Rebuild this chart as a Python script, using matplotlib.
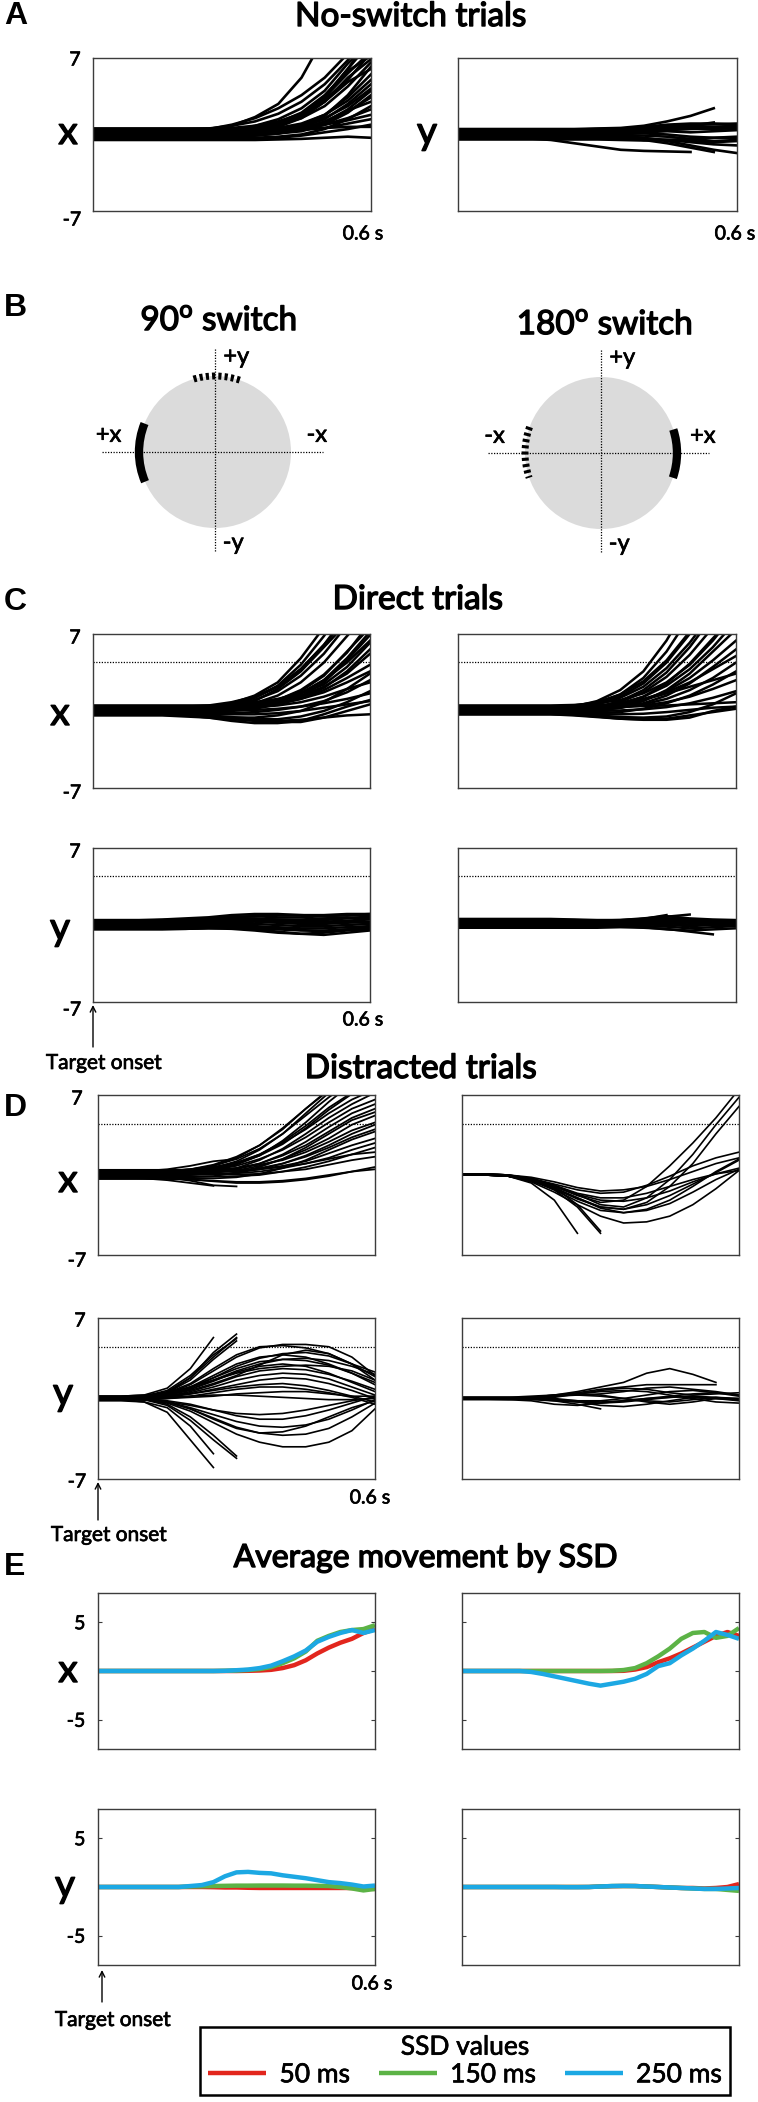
import numpy as np
import matplotlib
matplotlib.use('Agg')
import matplotlib.pyplot as plt
import matplotlib.patheffects as pe
from matplotlib.patches import Circle, Arc

plt.rcParams['font.family'] = ['Lato', 'DejaVu Sans']

# time base of the single-trial traces (s)
T = [0.0, 0.05, 0.1, 0.15, 0.2, 0.25, 0.3, 0.35, 0.4, 0.45, 0.5, 0.55, 0.6]
# time base of the SSD averages (s)
TE = [0.0, 0.025, 0.05, 0.075, 0.1, 0.125, 0.15, 0.175, 0.2, 0.225, 0.25, 0.275,
      0.3, 0.325, 0.35, 0.375, 0.4, 0.425, 0.45, 0.475, 0.5, 0.525, 0.55, 0.575, 0.6]

THRESH = 4.5  # dotted threshold line

# ---- A: no-switch trials ----
nsw_x = [
    [0.3, 0.3, 0.3, 0.3, 0.3, 0.4, 0.8, 1.6, 2.8, 5.2, 9.0, 13, 16],
    [0.4, 0.4, 0.4, 0.4, 0.4, 0.5, 0.9, 1.5, 2.4, 3.6, 5.2, 7.4, 10],
    [0.5, 0.5, 0.5, 0.5, 0.5, 0.55, 0.8, 1.2, 1.9, 3.0, 4.6, 6.8, 9.5],
    [0.2, 0.2, 0.2, 0.2, 0.2, 0.2, 0.4, 0.8, 1.4, 2.4, 4.0, 6.5, 8.5],
    [0.1, 0.1, 0.1, 0.1, 0.1, 0.1, 0.2, 0.5, 1.0, 1.9, 3.4, 5.6, 7.6],
    [0.3, 0.3, 0.3, 0.3, 0.3, 0.3, 0.4, 0.6, 1.1, 2.0, 3.6, 5.8, 7.2],
    [0.0, 0.0, 0.0, 0.0, 0.0, 0.0, 0.1, 0.3, 0.7, 1.5, 3.0, 5.2, 6.9],
    [0.45, 0.45, 0.45, 0.45, 0.45, 0.45, 0.5, 0.6, 0.9, 1.5, 2.6, 4.4, 6.6],
    [-0.1, -0.1, -0.1, -0.1, -0.1, -0.1, -0.1, 0.0, 0.2, 0.7, 1.7, 3.6, 6.2],
    [0.2, 0.2, 0.2, 0.2, 0.2, 0.2, 0.2, 0.3, 0.5, 0.9, 1.8, 3.4, 5.5],
    [0.35, 0.35, 0.35, 0.35, 0.35, 0.35, 0.35, 0.4, 0.6, 1.0, 1.8, 3.1, 5.0],
    [0.05, 0.05, 0.05, 0.05, 0.05, 0.05, 0.05, 0.1, 0.3, 0.7, 1.4, 2.8, 4.6],
    [-0.2, -0.2, -0.2, -0.2, -0.2, -0.2, -0.2, -0.1, 0.1, 0.4, 1.1, 2.3, 4.0],
    [0.15, 0.15, 0.15, 0.15, 0.15, 0.15, 0.15, 0.2, 0.3, 0.6, 1.1, 2.1, 3.4],
    [0.4, 0.4, 0.4, 0.4, 0.4, 0.4, 0.4, 0.4, 0.45, 0.6, 0.9, 1.5, 2.3],
    [-0.3, -0.3, -0.3, -0.3, -0.3, -0.3, -0.3, -0.3, -0.2, 0.0, 0.5, 1.4, 2.6],
    [0.1, 0.1, 0.1, 0.1, 0.1, 0.1, 0.1, 0.1, 0.2, 0.4, 0.6, 1.0, 1.4],
    [-0.4, -0.4, -0.4, -0.4, -0.4, -0.4, -0.4, -0.4, -0.3, -0.1, 0.2, 0.5, 0.9],
    [0.25, 0.25, 0.25, 0.25, 0.25, 0.25, 0.25, 0.3, 0.4, 0.5, 0.6, 0.7, 0.7],
    [-0.5, -0.5, -0.5, -0.5, -0.5, -0.5, -0.5, -0.5, -0.45, -0.4, -0.3, -0.2, -0.3],
    [0.55, 0.55, 0.55, 0.55, 0.55, 0.55, 0.6, 0.8, 1.2, 1.9, 3.2, 5.0, 7.5],
    [0.0, 0.0, 0.0, 0.0, 0.0, 0.0, 0.1, 0.3, 0.8, 1.8, 3.5, 6.0, 8.5],
    [-0.25, -0.25, -0.25, -0.25, -0.25, -0.25, -0.2, -0.1, 0.1, 0.5, 1.2, 2.2, 3.0],
    [0.5, 0.5, 0.5, 0.5, 0.5, 0.5, 0.5, 0.5, 0.6, 0.7, 0.9, 1.3, 1.8],
    [0.3, 0.3, 0.3, 0.3, 0.3, 0.3, 0.35, 0.5, 0.9, 1.7, 3.0, 4.8, 6.0],
    [-0.05, -0.05, -0.05, -0.05, -0.05, -0.05, -0.05, 0.0, 0.1, 0.3, 0.9, 2.0, 3.6],
    [0.4, 0.4, 0.4, 0.4, 0.4, 0.4, 0.45, 0.6, 1.0, 1.8, 3.4, 6.0, 9.0],
    [0.2, 0.2, 0.2, 0.2, 0.2, 0.2, 0.2, 0.25, 0.4, 0.8, 1.5, 2.6, 4.2],
]
nsw_y = [
    [0.5, 0.5, 0.5, 0.5, 0.5, 0.5, 0.55, 0.6, 0.8, 1.2, 1.7, 2.4],
    [-0.3, -0.3, -0.3, -0.35, -0.5, -0.8, -1.1, -1.4, -1.5, -1.55, -1.6],
    [0.4, 0.4, 0.4, 0.4, 0.4, 0.4, 0.45, 0.5, 0.7, 0.9, 1.0, 1.0, 0.9],
    [0.3, 0.3, 0.3, 0.3, 0.3, 0.3, 0.35, 0.45, 0.6, 0.8, 0.8, 0.7, 0.8],
    [0.2, 0.2, 0.2, 0.2, 0.2, 0.25, 0.3, 0.4, 0.5, 0.6, 0.55, 0.5, 0.6],
    [-0.2, -0.2, -0.2, -0.2, -0.2, -0.2, -0.2, -0.3, -0.5, -0.8, -1.2, -1.6],
    [-0.1, -0.1, -0.1, -0.1, -0.1, -0.1, -0.1, -0.15, -0.3, -0.6, -1.0, -1.4, -1.7],
    [0.1, 0.1, 0.1, 0.1, 0.1, 0.1, 0.15, 0.2, 0.3, 0.4, 0.5, 0.6, 0.5],
    [0.0, 0.0, 0.0, 0.0, 0.0, 0.0, 0.0, 0.1, 0.2, 0.3, 0.2, 0.3, 0.4],
    [-0.4, -0.4, -0.4, -0.4, -0.4, -0.4, -0.4, -0.4, -0.45, -0.5, -0.6, -0.7, -0.6],
    [0.45, 0.45, 0.45, 0.45, 0.45, 0.45, 0.5, 0.55, 0.65, 0.8, 0.9, 0.95, 1.0],
    [-0.3, -0.3, -0.3, -0.3, -0.3, -0.3, -0.3, -0.3, -0.35, -0.5, -0.7, -0.9, -1.0],
    [0.2, 0.2, 0.2, 0.2, 0.2, 0.2, 0.2, 0.25, 0.3, 0.45, 0.6, 0.7, 0.7],
    [-0.15, -0.15, -0.15, -0.15, -0.15, -0.15, -0.15, -0.1, -0.1, -0.2, -0.4, -0.6, -0.5],
    [0.35, 0.35, 0.35, 0.35, 0.35, 0.35, 0.35, 0.4, 0.5, 0.6, 0.8, 1.1],
    [0.05, 0.05, 0.05, 0.05, 0.05, 0.05, 0.05, 0.05, 0.1, 0.0, -0.2, -0.3, -0.2],
    [-0.45, -0.45, -0.45, -0.45, -0.45, -0.45, -0.45, -0.5, -0.55, -0.5, -0.4, -0.3, -0.3],
]

# ---- C: direct trials ----
dir_x_90 = [
    [-0.3, -0.3, -0.3, -0.3, -0.4, -0.6, -0.9, -1.1, -1.1, -0.9, -0.3, 0.4, 1.0],
    [-0.2, -0.2, -0.2, -0.25, -0.35, -0.5, -0.7, -0.9, -1.0, -1.0, -0.6, 0.0, 0.6],
    [-0.4, -0.4, -0.4, -0.4, -0.5, -0.6, -0.75, -0.85, -0.9, -0.8, -0.6, -0.4, -0.3],
    [0.3, 0.3, 0.3, 0.3, 0.3, 0.4, 0.7, 1.4, 2.6, 4.8, 7.6, 11, 14],
    [0.1, 0.1, 0.1, 0.1, 0.15, 0.3, 0.6, 1.2, 2.3, 4.2, 6.8, 9.8, 13],
    [0.4, 0.4, 0.4, 0.4, 0.4, 0.5, 0.8, 1.3, 2.2, 3.8, 6.0, 8.8, 12],
    [0.2, 0.2, 0.2, 0.2, 0.2, 0.3, 0.5, 1.0, 1.8, 3.2, 5.2, 7.8, 10.5],
    [0.0, 0.0, 0.0, 0.0, 0.0, 0.1, 0.3, 0.7, 1.4, 2.6, 4.4, 6.8, 9.2],
    [0.35, 0.35, 0.35, 0.35, 0.35, 0.35, 0.4, 0.6, 1.0, 1.8, 3.2, 5.4, 7.6],
    [-0.1, -0.1, -0.1, -0.1, -0.1, -0.1, 0.0, 0.2, 0.6, 1.3, 2.6, 4.6, 6.9],
    [0.25, 0.25, 0.25, 0.25, 0.25, 0.25, 0.3, 0.4, 0.7, 1.2, 2.1, 3.6, 5.6],
    [0.0, 0.0, 0.0, 0.0, 0.0, 0.0, 0.1, 0.3, 0.8, 1.6, 2.8, 4.4, 6.4],
    [0.15, 0.15, 0.15, 0.15, 0.15, 0.15, 0.2, 0.3, 0.6, 1.1, 1.9, 3.0, 4.2],
    [0.45, 0.45, 0.45, 0.45, 0.45, 0.45, 0.5, 0.6, 0.9, 1.4, 2.2, 3.4, 5.2],
    [-0.2, -0.2, -0.2, -0.2, -0.2, -0.2, -0.2, -0.1, 0.1, 0.4, 0.9, 1.7, 2.8],
    [0.3, 0.3, 0.3, 0.3, 0.3, 0.3, 0.3, 0.35, 0.5, 0.8, 1.3, 2.0, 2.6],
    [0.05, 0.05, 0.05, 0.05, 0.05, 0.05, 0.05, 0.1, 0.2, 0.4, 0.7, 1.1, 1.6],
    [-0.3, -0.3, -0.3, -0.3, -0.3, -0.3, -0.3, -0.3, -0.2, 0.0, 0.3, 0.6, 0.9],
    [0.4, 0.4, 0.4, 0.4, 0.4, 0.45, 0.6, 0.8, 1.1, 1.6, 2.4, 4.0, 6.2],
    [0.2, 0.2, 0.2, 0.2, 0.2, 0.3, 0.6, 1.2, 2.2, 3.8, 6.0, 8.4, 11],
    [-0.1, -0.1, -0.1, -0.1, -0.1, 0.0, 0.3, 0.9, 2.0, 3.6, 5.8, 8.0, 10],
    [0.5, 0.5, 0.5, 0.5, 0.5, 0.5, 0.55, 0.7, 1.0, 1.6, 2.8, 4.8, 7.2],
    [-0.35, -0.35, -0.35, -0.35, -0.4, -0.5, -0.6, -0.6, -0.4, 0.0, 0.8, 2.0, 3.4],
    [0.1, 0.1, 0.1, 0.1, 0.1, 0.15, 0.25, 0.5, 1.0, 1.9, 3.3, 5.3, 8.0],
    [-0.25, -0.25, -0.25, -0.25, -0.3, -0.4, -0.55, -0.7, -0.75, -0.5, 0.0, 0.8, 1.8],
    [0.3, 0.3, 0.3, 0.3, 0.3, 0.3, 0.35, 0.45, 0.7, 1.1, 1.7, 2.6, 3.6],
]
dir_x_180 = [
    [0.3, 0.3, 0.3, 0.3, 0.3, 0.4, 0.9, 1.9, 3.6, 6.4, 10, 14, 17],
    [0.1, 0.1, 0.1, 0.1, 0.15, 0.3, 0.7, 1.5, 3.0, 5.4, 8.6, 12, 15],
    [0.4, 0.4, 0.4, 0.4, 0.4, 0.5, 0.8, 1.5, 2.7, 4.6, 7.2, 10, 13],
    [0.2, 0.2, 0.2, 0.2, 0.2, 0.3, 0.6, 1.2, 2.2, 3.9, 6.2, 9.0, 12],
    [0.0, 0.0, 0.0, 0.0, 0.0, 0.1, 0.3, 0.8, 1.7, 3.1, 5.1, 7.6, 10],
    [0.35, 0.35, 0.35, 0.35, 0.35, 0.35, 0.4, 0.7, 1.3, 2.3, 3.8, 5.8, 8.2],
    [-0.1, -0.1, -0.1, -0.1, -0.1, -0.1, 0.0, 0.3, 0.9, 1.9, 3.4, 5.4, 7.4],
    [0.25, 0.25, 0.25, 0.25, 0.25, 0.25, 0.3, 0.5, 1.0, 1.8, 3.0, 4.6, 6.4],
    [0.05, 0.05, 0.05, 0.05, 0.05, 0.05, 0.1, 0.3, 0.7, 1.4, 2.5, 4.0, 5.6],
    [0.45, 0.45, 0.45, 0.45, 0.45, 0.45, 0.5, 0.7, 1.1, 1.7, 2.6, 3.8, 5.0],
    [0.15, 0.15, 0.15, 0.15, 0.15, 0.15, 0.2, 0.3, 0.6, 1.1, 1.9, 3.0, 4.4],
    [-0.2, -0.2, -0.2, -0.2, -0.2, -0.2, -0.2, -0.1, 0.2, 0.7, 1.4, 2.4, 3.6],
    [0.3, 0.3, 0.3, 0.3, 0.3, 0.3, 0.3, 0.35, 0.5, 0.8, 1.3, 2.0, 2.8],
    [0.0, 0.0, 0.0, 0.0, 0.0, 0.0, 0.0, 0.05, 0.15, 0.35, 0.7, 1.2, 1.8],
    [0.4, 0.4, 0.4, 0.4, 0.4, 0.4, 0.4, 0.4, 0.45, 0.5, 0.6, 0.7, 0.8],
    [-0.3, -0.3, -0.3, -0.3, -0.3, -0.3, -0.3, -0.3, -0.25, -0.1, 0.1, 0.3, 0.4],
    [-0.2, -0.2, -0.2, -0.2, -0.25, -0.35, -0.5, -0.7, -0.8, -0.8, -0.6, 0.0, 0.4],
    [-0.3, -0.3, -0.3, -0.3, -0.3, -0.4, -0.55, -0.7, -0.75, -0.7, -0.4, -0.1, 0.2],
    [-0.1, -0.1, -0.1, -0.1, -0.15, -0.25, -0.4, -0.55, -0.6, -0.5, -0.1, 0.6, 1.6],
    [0.2, 0.2, 0.2, 0.2, 0.2, 0.3, 0.6, 1.3, 2.5, 4.4, 7.0, 10, 13],
    [0.5, 0.5, 0.5, 0.5, 0.5, 0.55, 0.7, 1.0, 1.6, 2.6, 4.2, 6.4, 9.0],
    [0.1, 0.1, 0.1, 0.1, 0.1, 0.15, 0.35, 0.9, 1.9, 3.5, 5.8, 8.6, 11],
    [-0.05, -0.05, -0.05, -0.05, -0.05, 0.0, 0.2, 0.6, 1.3, 2.5, 4.3, 6.6, 8.8],
    [0.3, 0.3, 0.3, 0.3, 0.3, 0.3, 0.4, 0.6, 1.0, 1.6, 2.2, 2.8, 3.4],
]
dir_y_90 = [
    [0.4, 0.4, 0.4, 0.45, 0.5, 0.6, 0.7, 0.8, 0.9, 0.9, 0.8, 0.9, 1.0],
    [0.3, 0.3, 0.35, 0.4, 0.5, 0.6, 0.75, 0.8, 0.7, 0.7, 0.8, 0.9, 0.8],
    [0.2, 0.2, 0.25, 0.3, 0.4, 0.5, 0.6, 0.6, 0.5, 0.5, 0.6, 0.7, 0.6],
    [0.1, 0.1, 0.1, 0.15, 0.2, 0.3, 0.4, 0.45, 0.4, 0.3, 0.3, 0.4, 0.5],
    [0.0, 0.0, 0.0, 0.05, 0.1, 0.2, 0.25, 0.3, 0.2, 0.1, 0.1, 0.2, 0.3],
    [-0.1, -0.1, -0.1, -0.1, -0.05, 0.05, 0.1, 0.1, 0.0, -0.1, -0.1, 0.0, 0.1],
    [-0.2, -0.2, -0.2, -0.2, -0.15, -0.1, -0.05, -0.1, -0.2, -0.3, -0.3, -0.2, -0.1],
    [-0.3, -0.3, -0.3, -0.3, -0.3, -0.25, -0.2, -0.3, -0.4, -0.5, -0.5, -0.4, -0.3],
    [-0.4, -0.4, -0.4, -0.4, -0.35, -0.3, -0.3, -0.4, -0.6, -0.8, -0.7, -0.5, -0.4],
    [0.45, 0.45, 0.45, 0.5, 0.6, 0.7, 0.9, 1.0, 1.0, 0.9, 0.9, 1.0, 1.0],
    [-0.35, -0.35, -0.35, -0.35, -0.35, -0.3, -0.35, -0.5, -0.7, -0.8, -0.9, -0.7, -0.5],
    [0.25, 0.25, 0.25, 0.3, 0.35, 0.45, 0.5, 0.55, 0.5, 0.4, 0.45, 0.6, 0.7],
    [0.05, 0.05, 0.05, 0.1, 0.15, 0.2, 0.3, 0.35, 0.3, 0.2, 0.2, 0.3, 0.2],
    [-0.25, -0.25, -0.25, -0.25, -0.2, -0.15, -0.1, -0.2, -0.3, -0.45, -0.6, -0.4, -0.2],
]
dir_y_180 = [
    [0.55, 0.55, 0.55, 0.55, 0.55, 0.5, 0.45, 0.45, 0.55, 0.9],
    [0.45, 0.45, 0.45, 0.45, 0.45, 0.45, 0.4, 0.45, 0.6, 0.8, 0.6, 0.5, 0.45],
    [0.3, 0.3, 0.3, 0.3, 0.3, 0.3, 0.3, 0.35, 0.45, 0.6, 0.5, 0.4, 0.4],
    [0.2, 0.2, 0.2, 0.2, 0.2, 0.2, 0.2, 0.25, 0.35, 0.45, 0.4, 0.3, 0.3],
    [0.1, 0.1, 0.1, 0.1, 0.1, 0.1, 0.1, 0.15, 0.25, 0.3, 0.2, 0.2, 0.2],
    [0.0, 0.0, 0.0, 0.0, 0.0, 0.0, 0.05, 0.1, 0.15, 0.15, 0.05, 0.1, 0.1],
    [-0.1, -0.1, -0.1, -0.1, -0.1, -0.1, -0.05, 0.0, 0.05, 0.0, -0.1, 0.0, 0.0],
    [-0.2, -0.2, -0.2, -0.2, -0.2, -0.2, -0.15, -0.1, -0.1, -0.15, -0.3, -0.2, -0.1],
    [-0.25, -0.25, -0.25, -0.25, -0.25, -0.25, -0.25, -0.2, -0.25, -0.35, -0.6, -0.85],
    [-0.15, -0.15, -0.15, -0.15, -0.15, -0.15, -0.1, -0.1, -0.2, -0.4, -0.5, -0.4, -0.3],
    [0.35, 0.35, 0.35, 0.35, 0.35, 0.35, 0.35, 0.4, 0.55, 0.75, 0.95],
    [0.05, 0.05, 0.05, 0.05, 0.05, 0.05, 0.1, 0.2, 0.3, 0.4, 0.3, 0.2, 0.2],
]

# ---- D: distracted trials ----
dist_x_90 = [
    [0.2, 0.2, 0.2, 0.3, 0.5, 0.9, 1.6, 2.6, 4.0, 5.8, 7.5, 9.0, 11],
    [0.0, 0.0, 0.05, 0.1, 0.3, 0.6, 1.2, 2.2, 3.6, 5.4, 7.2, 9.0, 10],
    [0.3, 0.3, 0.3, 0.35, 0.5, 0.8, 1.4, 2.3, 3.6, 5.2, 6.8, 8.2, 9.5],
    [0.1, 0.1, 0.1, 0.15, 0.25, 0.5, 1.0, 1.8, 2.9, 4.3, 5.9, 7.2, 8.4],
    [0.4, 0.4, 0.4, 0.4, 0.5, 0.7, 1.1, 1.8, 2.8, 4.0, 5.4, 6.6, 7.5],
    [-0.1, -0.1, -0.1, -0.1, 0.0, 0.2, 0.6, 1.3, 2.3, 3.6, 5.0, 6.2, 7.2],
    [0.25, 0.25, 0.25, 0.25, 0.3, 0.45, 0.8, 1.4, 2.2, 3.3, 4.6, 5.8, 6.6],
    [0.05, 0.05, 0.05, 0.05, 0.1, 0.2, 0.5, 1.0, 1.8, 2.9, 4.2, 5.4, 6.2],
    [0.35, 0.35, 0.35, 0.35, 0.35, 0.4, 0.6, 1.0, 1.7, 2.6, 3.8, 5.0, 5.8],
    [-0.2, -0.2, -0.2, -0.2, -0.2, -0.1, 0.2, 0.7, 1.4, 2.4, 3.6, 4.8, 5.5],
    [0.15, 0.15, 0.15, 0.15, 0.15, 0.2, 0.4, 0.8, 1.4, 2.2, 3.2, 4.4, 5.2],
    [0.45, 0.45, 0.45, 0.45, 0.45, 0.5, 0.6, 0.9, 1.3, 2.0, 2.9, 3.9, 4.6],
    [0.0, 0.0, 0.0, 0.0, 0.0, 0.05, 0.2, 0.5, 1.0, 1.7, 2.6, 3.6, 4.4],
    [0.2, 0.2, 0.2, 0.2, 0.2, 0.25, 0.35, 0.6, 1.0, 1.6, 2.4, 3.3, 4.0],
    [-0.3, -0.3, -0.3, -0.3, -0.3, -0.3, -0.2, 0.1, 0.6, 1.3, 2.2, 3.1, 3.8],
    [0.3, 0.3, 0.3, 0.3, 0.3, 0.3, 0.35, 0.5, 0.8, 1.2, 1.9, 2.6, 3.2],
    [0.1, 0.1, 0.1, 0.1, 0.1, 0.1, 0.15, 0.3, 0.6, 1.0, 1.5, 2.2, 2.8],
    [-0.15, -0.15, -0.15, -0.15, -0.15, -0.15, -0.1, 0.0, 0.3, 0.7, 1.2, 1.8, 2.4],
    [0.4, 0.4, 0.4, 0.4, 0.4, 0.4, 0.4, 0.5, 0.7, 1.0, 1.4, 1.8, 2.0],
    [0.05, 0.05, 0.05, 0.05, 0.05, 0.05, 0.05, 0.1, 0.3, 0.5, 0.9, 1.3, 1.6],
    [-0.35, -0.35, -0.35, -0.35, -0.4, -0.5, -0.6, -0.6, -0.5, -0.3, 0.0, 0.3, 0.5],
    [-0.25, -0.25, -0.25, -0.3, -0.4, -0.55, -0.7, -0.7, -0.6, -0.4, -0.1, 0.3, 0.7],
    [0.1, 0.05, -0.05, -0.2, -0.5, -0.9, -1.0],
    [-0.2, -0.2, -0.3, -0.45, -0.7, -0.95],
    [0.3, 0.3, 0.35, 0.5, 0.8, 1.2, 1.4],
    [0.2, 0.2, 0.2, 0.25, 0.4, 0.8, 1.5, 2.6, 4.1, 5.8, 7.4],
    [0.0, 0.0, 0.0, 0.05, 0.15, 0.4, 0.9, 1.7, 3.0, 4.6, 6.4, 8.0],
    [0.25, 0.25, 0.25, 0.3, 0.4, 0.6, 1.0, 1.7, 2.7, 4.1, 5.7, 7.1, 8.0],
]
dist_x_180 = [
    [0.05, 0.05, -0.1, -0.7, -2.2, -5.1],
    [0.0, 0.0, -0.05, -0.4, -1.3, -2.8, -5.1],
    [0.1, 0.1, 0.0, -0.3, -1.1, -2.6, -4.9],
    [0.0, 0.0, -0.1, -0.5, -1.3, -2.3, -3.1, -3.3, -3.0, -2.2, -1.0, 0.3, 1.4],
    [0.1, 0.1, 0.0, -0.4, -1.1, -2.0, -2.9, -3.3, -3.1, -2.5, -1.5, -0.4, 0.5],
    [0.0, 0.0, -0.1, -0.6, -1.5, -2.6, -3.6, -4.2, -4.1, -3.6, -2.6, -1.2, 0.4],
    [0.0, 0.0, -0.1, -0.4, -1.0, -1.8, -2.4, -2.2, -1.0, 0.8, 2.8, 5.0, 7.5],
    [0.1, 0.1, 0.0, -0.3, -0.9, -1.7, -2.6, -2.8, -2.0, -0.4, 1.8, 4.4, 6.8],
    [0.0, 0.0, -0.1, -0.5, -1.2, -2.0, -2.8, -3.0, -2.4, -1.0, 1.0, 3.6, 6.0],
    [0.0, 0.0, -0.05, -0.3, -0.8, -1.3, -1.6, -1.5, -0.9, -0.1, 0.8, 1.5, 2.0],
    [0.1, 0.1, 0.0, -0.2, -0.6, -1.1, -1.4, -1.3, -1.0, -0.4, 0.3, 1.0, 1.5],
    [0.0, 0.0, -0.1, -0.4, -1.0, -1.7, -2.2, -2.3, -2.0, -1.4, -0.6, 0.1, 0.6],
    [0.05, 0.05, -0.05, -0.3, -0.9, -1.6, -2.0, -2.0, -1.6, -1.0, -0.4, 0.1, 0.4],
    [0.0, 0.0, -0.1, -0.5, -1.2, -2.1, -2.8, -3.0, -2.6, -1.8, -0.8, 0.2, 1.3],
]
dist_y_90 = [
    [0.1, 0.1, 0.2, 0.6, 1.8, 3.6, 5.3],
    [0.0, 0.0, 0.1, 0.5, 1.6, 3.4, 5.0],
    [0.2, 0.2, 0.3, 0.9, 2.6, 5.3],
    [-0.1, -0.1, 0.0, 0.5, 1.8, 4.0, 5.6],
    [0.1, 0.1, 0.2, 0.7, 2.0, 3.8, 5.2],
    [0.0, 0.0, 0.1, 0.4, 1.2, 2.4, 3.6, 4.4, 4.7, 4.7, 4.5, 3.6, 2.0],
    [0.1, 0.1, 0.2, 0.5, 1.3, 2.6, 3.8, 4.5, 4.6, 4.4, 3.9, 3.0, 1.9],
    [0.0, 0.0, 0.1, 0.3, 1.0, 2.0, 3.0, 3.6, 3.8, 3.6, 3.0, 2.2, 1.4],
    [0.2, 0.2, 0.2, 0.4, 1.0, 1.8, 2.6, 3.2, 3.4, 3.3, 2.9, 2.2, 1.2],
    [0.0, 0.0, 0.1, 0.3, 0.8, 1.5, 2.3, 2.8, 3.0, 2.8, 2.2, 1.4, 0.6],
    [-0.1, -0.1, 0.0, 0.2, 0.6, 1.2, 1.9, 2.4, 2.6, 2.5, 2.1, 1.5, 0.8],
    [0.1, 0.1, 0.1, 0.3, 0.7, 1.3, 2.0, 2.9, 3.8, 4.2, 3.9, 3.0, 1.6],
    [0.0, 0.0, 0.05, 0.2, 0.5, 1.0, 1.6, 2.0, 2.2, 2.1, 1.7, 1.0, 0.3],
    [0.2, 0.2, 0.3, 0.5, 1.0, 1.6, 2.2, 2.6, 2.8, 2.9, 2.8, 2.4, 1.6],
    [0.0, 0.0, 0.0, 0.1, 0.4, 0.8, 1.2, 1.6, 1.8, 1.7, 1.3, 0.7, 0.0],
    [0.1, 0.1, 0.1, 0.2, 0.4, 0.7, 1.0, 1.2, 1.3, 1.1, 0.7, 0.2, -0.3],
    [-0.1, -0.1, -0.1, 0.0, 0.2, 0.5, 0.8, 1.0, 1.0, 0.8, 0.5, 0.1, -0.5],
    [0.0, 0.0, 0.1, 0.3, 0.9, 1.8, 2.8, 3.5, 3.9, 4.0, 3.7, 3.0, 2.3],
    [0.1, 0.1, 0.1, 0.3, 0.8, 1.6, 2.4, 3.0, 3.4, 3.5, 3.3, 2.8, 2.1],
    [0.0, 0.0, 0.0, 0.1, 0.2, 0.3, 0.3, 0.2, 0.1, 0.0, -0.1, -0.1, 0.0],
    [-0.1, -0.1, -0.1, 0.0, 0.1, 0.2, 0.4, 0.5, 0.6, 0.6, 0.4, 0.2, 0.2],
    [-0.1, -0.1, -0.3, -1.2, -3.6, -6.0],
    [0.0, 0.0, -0.1, -0.6, -1.9, -3.6, -5.2],
    [0.1, 0.1, 0.0, -0.5, -1.6, -3.2, -5.0],
    [-0.2, -0.2, -0.3, -0.8, -2.4, -4.8],
    [0.0, 0.0, -0.1, -0.4, -1.1, -2.1, -3.1, -3.8, -4.2, -4.2, -3.8, -2.8, -0.9],
    [0.1, 0.1, 0.0, -0.3, -0.9, -1.7, -2.5, -3.0, -3.2, -3.1, -2.6, -1.6, -0.4],
    [0.0, 0.0, -0.1, -0.3, -0.8, -1.4, -2.0, -2.4, -2.5, -2.3, -1.8, -1.0, -0.1],
    [0.0, 0.0, 0.0, -0.2, -0.5, -1.0, -1.5, -1.8, -1.8, -1.5, -1.0, -0.4, 0.2],
    [-0.1, -0.1, -0.1, -0.3, -0.6, -1.0, -1.3, -1.4, -1.3, -1.0, -0.6, -0.2, 0.1],
    [0.0, 0.0, -0.1, -0.3, -0.9, -1.8, -2.6, -3.0, -2.9, -2.4, -1.6, -0.8, -0.2],
]
dist_y_180 = [
    [0.0, 0.0, 0.0, 0.1, 0.3, 0.6, 1.0, 1.4, 2.2, 2.6, 2.1, 1.4],
    [0.0, 0.0, 0.05, 0.1, 0.3, 0.5, 0.8, 1.0, 1.2, 1.2, 1.2, 1.2],
    [0.1, 0.1, 0.1, 0.0, -0.2, -0.5, -0.9],
    [0.0, 0.0, 0.0, 0.1, 0.2, 0.4, 0.6, 0.7, 0.6, 0.3, 0.0, -0.3, -0.4],
    [0.0, 0.0, 0.0, -0.1, -0.2, -0.3, -0.4, -0.3, -0.1, 0.1, 0.2, 0.0, -0.2],
    [0.1, 0.1, 0.1, 0.2, 0.3, 0.3, 0.2, 0.0, -0.2, -0.3, -0.1, 0.1, 0.0],
    [-0.1, -0.1, -0.1, -0.2, -0.5, -0.6, -0.4, -0.2, 0.0, 0.1, 0.2, 0.1, -0.1],
    [0.0, 0.0, 0.0, 0.0, 0.1, 0.4, 0.7, 0.9, 0.8, 0.5, 0.3, 0.4, 0.5],
    [0.05, 0.05, 0.05, 0.0, -0.1, -0.2, -0.2, 0.0, 0.3, 0.6, 0.7, 0.5, 0.2],
    [-0.05, -0.05, -0.1, 0.0, 0.2, 0.4, 0.3, 0.0, -0.3, -0.5, -0.3, 0.0, 0.0],
    [0.0, 0.0, 0.0, 0.1, 0.2, 0.3, 0.4, 0.6, 0.9, 1.0, 0.8, 0.6, 0.3],
    [0.1, 0.1, 0.1, 0.1, 0.0, -0.2, -0.3, -0.2, 0.0, 0.2, 0.4, 0.5, 0.3],
    [0.0, 0.0, 0.0, 0.0, -0.1, -0.3, -0.6, -0.7, -0.5, -0.2, 0.1, 0.0, -0.1],
]

# ---- E: average movement by SSD ----
ssd_labels = ['50 ms', '150 ms', '250 ms']
ssd_colors = ['#e2261d', '#5cb346', '#1ca8e3']
avg_x_90 = [
    [0, 0, 0, 0, 0, 0, 0, 0, 0, 0, 0, 0, 0.0, 0.02, 0.05, 0.12, 0.3, 0.6, 1.1, 1.8, 2.4, 2.9, 3.3, 3.9, 4.3],
    [0, 0, 0, 0, 0, 0, 0, 0, 0, 0, 0, 0.02, 0.05, 0.1, 0.2, 0.4, 0.8, 1.3, 2.0, 3.1, 3.6, 4.0, 4.2, 4.3, 4.7],
    [0, 0, 0, 0, 0, 0, 0, 0, 0, 0, 0, 0.02, 0.08, 0.15, 0.3, 0.55, 1.0, 1.5, 2.1, 3.0, 3.5, 3.9, 4.2, 3.9, 4.2],
]
avg_x_180 = [
    [0, 0, 0, 0, 0, 0, 0, 0, 0, 0, 0, 0, 0, 0, 0.02, 0.15, 0.4, 0.9, 1.3, 1.8, 2.4, 3.0, 3.6, 4.0, 3.6],
    [0, 0, 0, 0, 0, 0, 0, 0, 0, 0, 0, 0, 0, 0.02, 0.1, 0.3, 0.8, 1.5, 2.3, 3.3, 3.9, 4.0, 3.4, 3.6, 4.4],
    [0, 0, 0, 0, 0, 0, -0.1, -0.3, -0.55, -0.8, -1.05, -1.3, -1.5, -1.3, -1.1, -0.8, -0.3, 0.5, 0.8, 1.6, 2.3, 3.1, 4.0, 3.7, 3.3],
]
avg_y_90 = [
    [0, 0, 0, 0, 0, 0, 0, 0, 0, 0, -0.02, -0.05, -0.05, -0.08, -0.1, -0.1, -0.1, -0.1, -0.1, -0.1, -0.1, -0.1, -0.1, -0.15, -0.2],
    [0, 0, 0, 0, 0, 0, 0, 0, 0.05, 0.07, 0.1, 0.12, 0.14, 0.14, 0.15, 0.15, 0.15, 0.14, 0.14, 0.12, 0.1, 0.0, -0.15, -0.35, -0.2],
    [0, 0, 0, 0, 0, 0, 0, 0, 0.1, 0.2, 0.5, 1.1, 1.5, 1.55, 1.45, 1.4, 1.2, 1.05, 0.9, 0.7, 0.5, 0.4, 0.25, 0.05, 0.15],
]
avg_y_180 = [
    [0, 0, 0, 0, 0, 0, 0, 0, 0, 0, 0, 0, 0.05, 0.08, 0.1, 0.1, 0.05, 0.0, -0.05, -0.1, -0.1, -0.15, -0.1, 0.0, 0.3],
    [0, 0, 0, 0, 0, 0, 0, 0, 0, 0, 0, 0, 0.05, 0.1, 0.1, 0.1, 0.05, 0.0, -0.05, -0.1, -0.15, -0.2, -0.2, -0.3, -0.4],
    [0, 0, 0, 0, 0, 0, 0, 0, 0, -0.02, -0.02, 0.0, 0.05, 0.1, 0.12, 0.1, 0.05, 0.0, -0.05, -0.1, -0.15, -0.2, -0.2, -0.15, -0.1],
]

# circle schematics: arc spans in degrees (solid = target, dashed = switch target)
switch_solid = {'90': (158, 203), '180': (-19, 18)}
switch_dashed = {'90': (71, 108), '180': (160, 199)}

W, H = 758, 2102
fig = plt.figure(figsize=(W / 100, H / 100), dpi=100)

# thicken the text a little (the original uses a heavier humanist face)
heavy = [pe.withStroke(linewidth=0.5, foreground='black')]
heavier = [pe.withStroke(linewidth=1.0, foreground='black')]


def add_ax(x0, y0, x1, y1):
    return fig.add_axes([x0 / W, 1 - y1 / H, (x1 - x0) / W, (y1 - y0) / H])


def ftext(x, y, s, **kw):
    return fig.text(x / W, 1 - y / H, s, **kw)


def style_box(ax):
    for sp in ax.spines.values():
        sp.set_color('#3c3c3c')
        sp.set_linewidth(1.0)


def traj_ax(box, lines, dotted=True, lw=1.5):
    ax = add_ax(*box)
    for v in lines:
        ax.plot(T[:len(v)], v, color='black', lw=lw)
    if dotted:
        ax.axhline(THRESH, color='black', ls=(0, (1, 1.2)), lw=0.9)
    ax.set_xlim(0, 0.6)
    ax.set_ylim(-7, 7)
    ax.set_xticks([])
    ax.set_yticks([])
    style_box(ax)
    return ax


def avg_ax(box, series, labels=True):
    ax = add_ax(*box)
    for v, c, lab in zip(series, ssd_colors, ssd_labels):
        ax.plot(TE, v, color=c, lw=3.2, label=lab, solid_capstyle='butt')
    ax.set_xlim(0, 0.6)
    ax.set_ylim(-8, 8)
    ax.set_xticks([])
    ax.set_yticks([-5, 0, 5])
    ax.set_yticklabels(['-5', '', '5'] if labels else ['', '', ''], fontsize=14)
    for tl in ax.get_yticklabels():
        tl.set_path_effects(heavy)
    ax.tick_params(axis='y', direction='in', length=3, width=0.8, right=True,
                   pad=9, colors='#3c3c3c', labelcolor='black')
    style_box(ax)
    return ax


def onset_arrow(x, y0, y1, ty):
    fig.add_artist(plt.Annotation('', xy=(x, H - y1), xytext=(x, H - y0),
                                  xycoords='figure pixels',
                                  arrowprops=dict(arrowstyle='->', lw=1.0, color='black',
                                                  shrinkA=0, shrinkB=0)))
    ftext(x + 11, ty, 'Target onset', ha='center', va='center', fontsize=15,
          path_effects=heavy)


title_kw = dict(ha='center', va='center', fontsize=24, path_effects=heavier)
letter_kw = dict(ha='center', va='center', fontsize=23, fontweight='bold',
                 family=['Liberation Sans', 'DejaVu Sans'])
lab_kw = dict(ha='center', va='baseline', fontsize=28, path_effects=heavier)
num_kw = dict(ha='center', va='center', fontsize=14, path_effects=heavy)

# ---- A ----
ftext(16, 16, 'A', **letter_kw)
ftext(411, 17, 'No-switch trials', **title_kw)
traj_ax((93, 58, 371, 211), nsw_x, dotted=False, lw=1.9)
traj_ax((458, 58, 737, 211), nsw_y, dotted=False, lw=1.9)
ftext(75, 60, '7', **num_kw)
ftext(72, 220, '-7', **num_kw)
ftext(68, 144, 'x', **lab_kw)
ftext(427, 144, 'y', **lab_kw)
ftext(363, 234, '0.6 s', **num_kw)
ftext(735, 234, '0.6 s', **num_kw)

# ---- B ----
ftext(15, 308, 'B', **letter_kw)
R_PX = 76
for key, (cx, cy), lbl in [('90', (215, 452), ('+x', '-x')), ('180', (601, 453), ('-x', '+x'))]:
    ax = add_ax(cx - 120, cy - 120, cx + 120, cy + 120)
    lim = 120 / R_PX
    ax.set_xlim(-lim, lim)
    ax.set_ylim(-lim, lim)
    ax.axis('off')
    ax.add_patch(Circle((0, 0), 1, facecolor='#dbdbdb', edgecolor='none'))
    ax.plot([-1.49, 1.42], [0, 0], color='black', ls=(0, (1, 1.2)), lw=0.9)
    ax.plot([0, 0], [-1.3, 1.35], color='black', ls=(0, (1, 1.2)), lw=0.9)
    t1, t2 = switch_solid[key]
    ax.add_patch(Arc((0, 0), 2, 2, theta1=t1, theta2=t2, lw=6, color='black'))
    t1, t2 = switch_dashed[key]
    ax.add_patch(Arc((0, 0), 2, 2, theta1=t1, theta2=t2, lw=5, color='black',
                     linestyle=(0, (0.45, 0.45))))
    tk = dict(ha='center', va='center', fontsize=17, path_effects=heavy)
    ax.text(0.28, 1.25, '+y', **tk)
    ax.text(0.24, -1.2, '-y', **tk)
    ax.text(-1.4, 0.22, lbl[0], **tk)
    ax.text(1.34, 0.22, lbl[1], **tk)
    ax.text(0.05, 1.72 if key == '90' else 1.68,
            key + r'$^{\mathregular{o}}$ switch', clip_on=False, **title_kw)

# ---- C ----
ftext(15, 602, 'C', **letter_kw)
ftext(418, 600, 'Direct trials', **title_kw)
traj_ax((93, 634, 370, 788), dir_x_90, lw=1.8)
traj_ax((458, 634, 736, 788), dir_x_180, lw=1.8)
traj_ax((93, 848, 370, 1002), dir_y_90, lw=1.8)
traj_ax((458, 848, 736, 1002), dir_y_180, lw=1.8)
ftext(75, 638, '7', **num_kw)
ftext(72, 793, '-7', **num_kw)
ftext(75, 852, '7', **num_kw)
ftext(72, 1010, '-7', **num_kw)
ftext(60, 725, 'x', **lab_kw)
ftext(60, 940, 'y', **lab_kw)
ftext(363, 1020, '0.6 s', **num_kw)
onset_arrow(93, 1047, 1005, 1063)

# ---- D ----
ftext(15, 1108, 'D', **letter_kw)
ftext(421, 1069, 'Distracted trials', **title_kw)
traj_ax((98, 1095, 375, 1255), dist_x_90, lw=1.3)
traj_ax((462, 1095, 739, 1255), dist_x_180, lw=1.2)
traj_ax((98, 1318, 375, 1479), dist_y_90, lw=1.2)
traj_ax((462, 1318, 739, 1479), dist_y_180, lw=1.2)
ftext(77, 1099, '7', **num_kw)
ftext(77, 1261, '-7', **num_kw)
ftext(80, 1321, '7', **num_kw)
ftext(77, 1482, '-7', **num_kw)
ftext(68, 1192, 'x', **lab_kw)
ftext(63, 1405, 'y', **lab_kw)
ftext(370, 1498, '0.6 s', **num_kw)
onset_arrow(98, 1520, 1482, 1535)

# ---- E ----
ftext(15, 1567, 'E', **letter_kw)
ftext(426, 1558, 'Average movement by SSD', fontsize=23,
      **{k: v for k, v in title_kw.items() if k != 'fontsize'})
axE = avg_ax((98, 1593, 375, 1749), avg_x_90)
avg_ax((462, 1593, 739, 1749), avg_x_180, labels=False)
avg_ax((98, 1809, 375, 1965), avg_y_90)
avg_ax((462, 1809, 739, 1965), avg_y_180, labels=False)
ftext(68, 1682, 'x', **lab_kw)
ftext(65, 1897, 'y', **lab_kw)
ftext(372, 1984, '0.6 s', **num_kw)
onset_arrow(102, 2002, 1970, 2020)

handles, labels = axE.get_legend_handles_labels()
leg = fig.legend(handles, labels, loc='center', bbox_to_anchor=(465 / W, 1 - 2061 / H),
                 ncol=3, title='SSD values', frameon=True, fancybox=False,
                 edgecolor='black', framealpha=1, fontsize=19, title_fontsize=19,
                 handlelength=2.2, handletextpad=0.5, columnspacing=1.1,
                 borderpad=0.3, labelspacing=0.1)
leg.get_frame().set_linewidth(1.8)
for txt in leg.get_texts() + [leg.get_title()]:
    txt.set_path_effects(heavy)

fig.savefig('out.png', dpi=100)
